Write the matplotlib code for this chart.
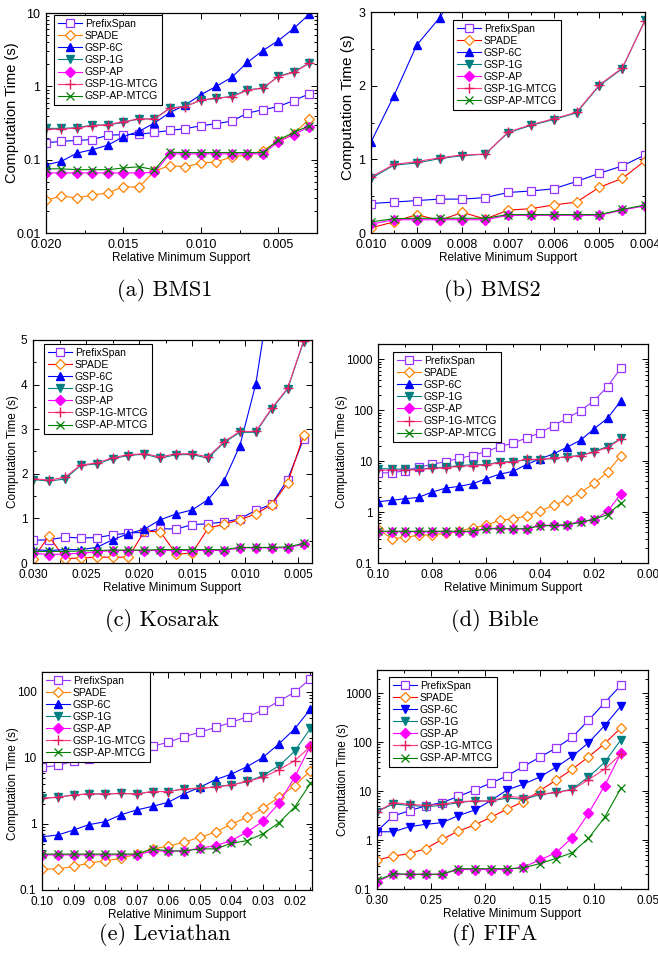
import numpy as np
import matplotlib
matplotlib.use('Agg')
import matplotlib.pyplot as plt
from matplotlib.ticker import FuncFormatter, AutoMinorLocator

plt.rcParams['font.family'] = ['Liberation Sans', 'DejaVu Sans']

# ---------------- data ----------------
labels = ['PrefixSpan', 'SPADE', 'GSP-6C', 'GSP-1G', 'GSP-AP', 'GSP-1G-MTCG', 'GSP-AP-MTCG']

# (a) BMS1
bms1_x = [0.020, 0.019, 0.018, 0.017, 0.016, 0.015, 0.014, 0.013, 0.012, 0.011,
          0.010, 0.009, 0.008, 0.007, 0.006, 0.005, 0.004, 0.003]
bms1_prefixspan = [0.17, 0.178, 0.183, 0.188, 0.215, 0.22, 0.222, 0.235, 0.25, 0.265,
                   0.29, 0.31, 0.335, 0.43, 0.48, 0.53, 0.64, 0.79]
bms1_spade = [0.028, 0.032, 0.030, 0.033, 0.035, 0.043, 0.042, 0.07, 0.083, 0.08,
              0.09, 0.093, 0.109, 0.116, 0.133, 0.18, 0.224, 0.36]
bms1_gsp6c = [0.085, 0.095, 0.123, 0.137, 0.158, 0.206, 0.243, 0.316, 0.44, 0.556,
              0.77, 1.0, 1.33, 2.12, 3.07, 4.2, 6.17, 9.6]
bms1_gsp1g = [0.267, 0.267, 0.273, 0.297, 0.297, 0.323, 0.359, 0.359, 0.507, 0.533,
              0.644, 0.686, 0.73, 0.9, 0.94, 1.37, 1.58, 2.08]
bms1_gspap = [0.066, 0.066, 0.066, 0.066, 0.066, 0.066, 0.066, 0.067, 0.12, 0.12,
              0.12, 0.12, 0.12, 0.12, 0.12, 0.175, 0.22, 0.28]
bms1_gsp1g_mtcg = [0.26, 0.26, 0.27, 0.29, 0.30, 0.33, 0.36, 0.36, 0.50, 0.53,
                   0.65, 0.69, 0.72, 0.88, 0.95, 1.35, 1.55, 2.05]
bms1_gspap_mtcg = [0.075, 0.075, 0.073, 0.073, 0.073, 0.077, 0.08, 0.073, 0.126, 0.125,
                   0.125, 0.125, 0.125, 0.125, 0.125, 0.185, 0.235, 0.29]

# (b) BMS2
bms2_x = [0.010, 0.0095, 0.009, 0.0085, 0.008, 0.0075, 0.007, 0.0065, 0.006,
          0.0055, 0.005, 0.0045, 0.004]
bms2_prefixspan = [0.40, 0.42, 0.44, 0.46, 0.46, 0.48, 0.55, 0.57, 0.60, 0.70, 0.81, 0.91, 1.06]
bms2_spade = [0.07, 0.15, 0.25, 0.17, 0.28, 0.19, 0.31, 0.33, 0.38, 0.42, 0.62, 0.74, 0.98]
bms2_gsp6c = [1.235, 1.86, 2.55, 2.92, 3.4]
bms2_gsp1g = [0.74, 0.92, 0.95, 1.01, 1.05, 1.07, 1.36, 1.46, 1.54, 1.63, 2.0, 2.23, 2.89]
bms2_gspap = [0.12, 0.18, 0.18, 0.18, 0.18, 0.18, 0.24, 0.24, 0.24, 0.24, 0.24, 0.31, 0.37]
bms2_gsp1g_mtcg = [0.76, 0.93, 0.97, 1.02, 1.06, 1.07, 1.37, 1.47, 1.55, 1.64, 2.01, 2.24, 2.88]
bms2_gspap_mtcg = [0.15, 0.195, 0.2, 0.2, 0.2, 0.2, 0.25, 0.25, 0.25, 0.25, 0.25, 0.32, 0.38]

# (c) Kosarak
kos_x = [0.030, 0.0285, 0.027, 0.0255, 0.024, 0.0225, 0.021, 0.0195, 0.018,
         0.0165, 0.015, 0.0135, 0.012, 0.0105, 0.009, 0.0075, 0.006, 0.0045]
kos_prefixspan = [0.51, 0.52, 0.58, 0.56, 0.57, 0.63, 0.67, 0.69, 0.77, 0.76, 0.86, 0.88,
                  0.92, 0.99, 1.18, 1.32, 1.87, 2.78]
kos_spade = [0.10, 0.60, 0.10, 0.11, 0.13, 0.13, 0.13, 0.71, 0.70, 0.20, 0.22, 0.78,
             0.87, 0.97, 1.10, 1.31, 1.79, 2.86]
kos_gsp6c = [0.30, 0.28, 0.30, 0.30, 0.35, 0.52, 0.66, 0.76, 0.97, 1.10, 1.19, 1.42,
             1.84, 2.63, 4.01, 6.3]
kos_gsp1g = [1.87, 1.84, 1.88, 2.19, 2.22, 2.34, 2.41, 2.44, 2.35, 2.43, 2.43, 2.35,
             2.70, 2.93, 2.93, 3.45, 3.90, 4.96]
kos_gspap = [0.22, 0.19, 0.20, 0.22, 0.25, 0.28, 0.28, 0.28, 0.28, 0.28, 0.28, 0.28,
             0.28, 0.34, 0.34, 0.34, 0.34, 0.42]
kos_gsp1g_mtcg = [1.89, 1.86, 1.92, 2.20, 2.24, 2.36, 2.43, 2.45, 2.38, 2.45, 2.45, 2.38,
                  2.72, 2.95, 2.95, 3.47, 3.92, 4.98]
kos_gspap_mtcg = [0.26, 0.26, 0.26, 0.27, 0.28, 0.29, 0.29, 0.29, 0.30, 0.30, 0.30, 0.30,
                  0.30, 0.35, 0.35, 0.35, 0.36, 0.44]

# (d) Bible
bib_x = [0.100, 0.095, 0.090, 0.085, 0.080, 0.075, 0.070, 0.065, 0.060, 0.055,
         0.050, 0.045, 0.040, 0.035, 0.030, 0.025, 0.020, 0.015, 0.010]
bib_prefixspan = [5.9, 5.9, 6.5, 7.6, 8.6, 9.8, 11.4, 12.9, 15.4, 19.3, 22.6, 28.6, 36,
                  50, 69.5, 98, 154, 290, 680]
bib_spade = [0.47, 0.30, 0.32, 0.35, 0.36, 0.38, 0.42, 0.49, 0.55, 0.69, 0.74, 0.84,
             1.05, 1.35, 1.75, 2.4, 3.65, 6.1, 12.9]
bib_gsp6c = [1.6, 1.7, 1.83, 1.94, 2.47, 2.95, 3.2, 3.6, 4.5, 5.55, 6.3, 8.6, 11.1,
             13.9, 18.8, 25.8, 43, 69.5, 154]
bib_gsp1g = [7.1, 7.1, 6.9, 6.9, 7.4, 7.6, 8.2, 8.5, 8.6, 9.6, 9.8, 10.6, 10.6, 11.4,
             12.3, 12.9, 15.4, 19.4, 28]
bib_gspap = [0.41, 0.41, 0.41, 0.41, 0.41, 0.41, 0.41, 0.41, 0.48, 0.48, 0.47, 0.47,
             0.55, 0.55, 0.57, 0.66, 0.71, 1.03, 2.3]
bib_gsp1g_mtcg = [6.6, 6.7, 6.6, 6.8, 7.2, 7.4, 7.9, 8.2, 8.4, 9.3, 9.6, 11.0, 10.8,
                  11.6, 12.0, 12.8, 15.0, 18.5, 27]
bib_gspap_mtcg = [0.42, 0.42, 0.42, 0.42, 0.42, 0.42, 0.42, 0.42, 0.47, 0.47, 0.47,
                  0.47, 0.54, 0.54, 0.56, 0.63, 0.72, 0.89, 1.5]

# (e) Leviathan
lev_x = [0.100, 0.095, 0.090, 0.085, 0.080, 0.075, 0.070, 0.065, 0.060, 0.055,
         0.050, 0.045, 0.040, 0.035, 0.030, 0.025, 0.020, 0.015]
lev_prefixspan = [7.2, 7.7, 8.9, 9.6, 10.5, 12.2, 13.4, 15.0, 17.3, 21, 24.5, 29, 34.6,
                  42, 53, 72, 99, 157]
lev_spade = [0.208, 0.208, 0.228, 0.256, 0.278, 0.30, 0.35, 0.42, 0.46, 0.53, 0.63,
             0.75, 1.0, 1.26, 1.73, 2.53, 3.8, 6.4]
lev_gsp6c = [0.64, 0.68, 0.81, 0.98, 1.08, 1.38, 1.63, 1.85, 2.13, 2.85, 3.6, 4.7, 5.7,
             7.4, 10.2, 16.3, 27.5, 55]
lev_gsp1g = [2.45, 2.54, 2.75, 2.85, 2.85, 2.9, 2.85, 3.1, 3.1, 3.4, 3.4, 3.7, 3.9, 4.4,
             5.4, 7.6, 12.6, 28]
lev_gspap = [0.34, 0.34, 0.34, 0.34, 0.34, 0.34, 0.34, 0.39, 0.39, 0.39, 0.43, 0.47,
             0.56, 0.76, 1.1, 2.05, 5.1, 15.4]
lev_gsp1g_mtcg = [2.45, 2.54, 2.75, 2.85, 2.85, 2.9, 2.85, 3.1, 3.1, 3.4, 3.5, 3.6, 3.9,
                  4.4, 5.1, 6.6, 9.1, 14.8]
lev_gspap_mtcg = [0.35, 0.35, 0.35, 0.35, 0.35, 0.35, 0.35, 0.42, 0.39, 0.39, 0.42,
                  0.42, 0.51, 0.56, 0.71, 1.04, 1.8, 4.1]

# (f) FIFA
fifa_x = [0.300, 0.285, 0.270, 0.255, 0.240, 0.225, 0.210, 0.195, 0.180, 0.165,
          0.150, 0.135, 0.120, 0.105, 0.090, 0.075]
fifa_prefixspan = [1.53, 3.1, 4.0, 5.0, 5.85, 7.8, 10.6, 14.6, 20.6, 32, 49, 76, 126,
                   279, 643, 1460]
fifa_spade = [0.39, 0.47, 0.53, 0.67, 1.03, 1.53, 2.03, 2.92, 4.3, 6.1, 10.2, 16.6, 28,
              50, 94, 197]
fifa_gsp6c = [1.48, 1.48, 1.88, 2.1, 2.27, 3.16, 4.1, 6.4, 10.6, 13.9, 19.4, 30.6,
              51.5, 97, 220, 550]
fifa_gsp1g = [3.8, 5.5, 5.1, 4.84, 5.1, 5.85, 6.3, 6.3, 7.2, 6.85, 8.4, 9.4, 11.0,
              19.4, 38.8, 113]
fifa_gspap = [0.14, 0.2, 0.2, 0.2, 0.2, 0.25, 0.25, 0.25, 0.25, 0.28, 0.39, 0.55,
              1.12, 3.5, 12.9, 60]
fifa_gsp1g_mtcg = [3.8, 5.85, 5.4, 5.1, 5.4, 6.1, 6.3, 6.3, 7.8, 7.4, 8.7, 9.4, 10.6,
                   17.1, 28.3, 57]
fifa_gspap_mtcg = [0.15, 0.205, 0.2, 0.2, 0.2, 0.26, 0.26, 0.26, 0.26, 0.27, 0.33,
                   0.42, 0.55, 1.08, 2.92, 11.5]

# ---------------- styles ----------------
PURPLE = '#9933ff'
ORANGE = '#ff8000'
BLUE = '#0000ff'
RED = '#ff0000'
TEAL = '#008080'
MAGENTA = '#ff00ff'
CRIMSON = '#e8175d'
PINK = '#ff3385'
GREEN = '#008000'


def fmt_log(v, p):
    return '%g' % v


def draw_panel(box, x, series, prefix_line, spade_line, sixc_marker, log, ylim, xlim,
               xticks, xfmt, yticks, leg_anchor, ylab_pos, ylab_size, tick_size):
    W, H = 658.0, 956.0
    l, r, t, b = box
    ax = fig.add_axes([l / W, 1 - b / H, (r - l) / W, (b - t) / H])
    ps, sp, c6, g1, ap, g1m, apm = series
    ax.plot(x, ps, color=prefix_line, lw=0.8, marker='s', ms=5.3, mfc='white',
            mec=PURPLE, mew=0.9, label=labels[0])
    ax.plot(x, sp, color=spade_line, lw=0.8, marker='D', ms=5.3, mfc='white',
            mec=ORANGE, mew=0.9, label=labels[1])
    ax.plot(x[:len(c6)], c6, color=BLUE, lw=0.8, marker=sixc_marker, ms=6.2,
            mfc=BLUE, mec=BLUE, label=labels[2])
    ax.plot(x, g1, color=TEAL, lw=0.8, marker='v', ms=6.2, mfc=TEAL, mec=TEAL,
            label=labels[3])
    ax.plot(x, ap, color=MAGENTA, lw=0.8, marker='D', ms=5.3, mfc=MAGENTA,
            mec=MAGENTA, label=labels[4])
    ax.plot(x, g1m, color=PINK, lw=0.8, marker='+', ms=6.5, mec=CRIMSON, mew=1.0,
            label=labels[5])
    ax.plot(x, apm, color=GREEN, lw=0.8, marker='x', ms=6, mec=GREEN, mew=0.9,
            label=labels[6])

    if log:
        ax.set_yscale('log')
    else:
        ax.yaxis.set_minor_locator(AutoMinorLocator(2))
    ax.set_ylim(*ylim)
    ax.set_yticks(yticks)
    if log:
        ax.yaxis.set_major_formatter(FuncFormatter(fmt_log))
    ax.set_xlim(*xlim)
    ax.set_xticks(xticks)
    ax.xaxis.set_major_formatter(FuncFormatter(lambda v, p: xfmt % v))
    ax.xaxis.set_minor_locator(AutoMinorLocator(2))

    ax.tick_params(which='both', direction='in', top=True, right=True,
                   labelsize=tick_size, width=0.7)
    ax.tick_params(axis='x', which='both', pad=4)
    ax.tick_params(axis='y', which='both', pad=4)
    ax.tick_params(which='major', length=4.2)
    ax.tick_params(which='minor', length=2.4)
    for s in ax.spines.values():
        s.set_linewidth(0.9)

    ax.set_xlabel('Relative Minimum Support', fontsize=8.5, labelpad=1)
    ax.set_ylabel('Computation Time (s)', fontsize=ylab_size)
    ax.yaxis.set_label_coords(*ylab_pos)
    ax.yaxis.label.set_verticalalignment('center')

    leg = ax.legend(loc='upper left', bbox_to_anchor=leg_anchor, borderaxespad=0,
                    fontsize=7.5, frameon=True, fancybox=False, edgecolor='black',
                    framealpha=1, labelspacing=0.2, handlelength=2.3,
                    handletextpad=0.3, borderpad=0.35)
    leg.get_frame().set_linewidth(0.8)
    return ax


fig = plt.figure(figsize=(6.58, 9.56), dpi=100)

draw_panel((46, 317, 13, 233), bms1_x,
           [bms1_prefixspan, bms1_spade, bms1_gsp6c, bms1_gsp1g, bms1_gspap,
            bms1_gsp1g_mtcg, bms1_gspap_mtcg],
           BLUE, ORANGE, '^', True, (0.01, 10), (0.020, 0.0025),
           [0.020, 0.015, 0.010, 0.005], '%.3f', [0.01, 0.1, 1, 10], (0.03, 0.99),
           (-0.125, 0.545), 10.5, 9)

draw_panel((371, 645, 12, 233), bms2_x,
           [bms2_prefixspan, bms2_spade, bms2_gsp6c, bms2_gsp1g, bms2_gspap,
            bms2_gsp1g_mtcg, bms2_gspap_mtcg],
           BLUE, RED, '^', False, (0, 3), (0.010, 0.004),
           [0.010, 0.009, 0.008, 0.007, 0.006, 0.005, 0.004], '%.3f', [0, 1, 2, 3],
           (0.30, 0.964), (-0.084, 0.57), 11, 9)

draw_panel((33, 312, 340, 563), kos_x,
           [kos_prefixspan, kos_spade, kos_gsp6c, kos_gsp1g, kos_gspap,
            kos_gsp1g_mtcg, kos_gspap_mtcg],
           BLUE, RED, '^', False, (0, 5), (0.030, 0.0037),
           [0.030, 0.025, 0.020, 0.015, 0.010, 0.005], '%.3f', [0, 1, 2, 3, 4, 5],
           (0.04, 0.982), (-0.072, 0.5), 8.5, 8.5)

draw_panel((378, 648, 344, 563), bib_x,
           [bib_prefixspan, bib_spade, bib_gsp6c, bib_gsp1g, bib_gspap,
            bib_gsp1g_mtcg, bib_gspap_mtcg],
           PURPLE, ORANGE, '^', True, (0.1, 2000), (0.10, 0.0),
           [0.10, 0.08, 0.06, 0.04, 0.02, 0.00], '%.2f', [0.1, 1, 10, 100, 1000],
           (0.056, 0.963), (-0.133, 0.51), 8.5, 8.5)

draw_panel((42, 312, 672, 890), lev_x,
           [lev_prefixspan, lev_spade, lev_gsp6c, lev_gsp1g, lev_gspap,
            lev_gsp1g_mtcg, lev_gspap_mtcg],
           PURPLE, ORANGE, '^', True, (0.1, 200), (0.10, 0.0145),
           [0.10, 0.09, 0.08, 0.07, 0.06, 0.05, 0.04, 0.03, 0.02], '%.2f',
           [0.1, 1, 10, 100], (0.0, 1.0), (-0.107, 0.49), 8.5, 8.5)

draw_panel((377, 648, 670, 889), fifa_x,
           [fifa_prefixspan, fifa_spade, fifa_gsp6c, fifa_gsp1g, fifa_gspap,
            fifa_gsp1g_mtcg, fifa_gspap_mtcg],
           BLUE, RED, 'v', True, (0.1, 3000), (0.30, 0.05),
           [0.30, 0.25, 0.20, 0.15, 0.10, 0.05], '%.2f', [0.1, 1, 10, 100, 1000],
           (0.044, 0.968), (-0.125, 0.5), 8.5, 8.5)

# captions
caps = [('(a) BMS1', 165, 290), ('(b) BMS2', 492, 290),
        ('(c) Kosarak', 162, 620), ('(d) Bible', 495, 620),
        ('(e) Leviathan', 165, 935), ('(f) FIFA', 495, 935)]
for txt, cx, cy in caps:
    fig.text(cx / 658.0, 1 - cy / 956.0, txt, family='cmr10', fontsize=16,
             ha='center', va='center')

fig.savefig('out.png', dpi=100)
